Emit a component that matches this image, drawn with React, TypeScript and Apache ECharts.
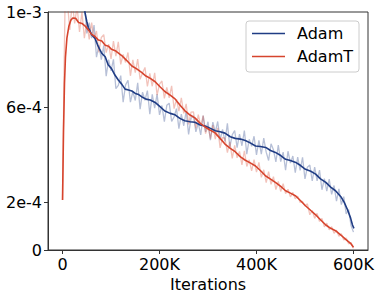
import React, { useEffect, useRef } from "react";
import * as echarts from "echarts";

// x in thousands of iterations, y in units of 1e-4
const adamSmoothX = [40, 46, 50, 53, 60, 67, 74, 81, 88, 94, 101, 108, 115, 122, 129, 136, 143, 150, 157, 163, 172, 181, 191, 201, 211, 222, 232, 242, 252, 263, 273, 284, 294, 305, 315, 325, 335, 346, 356, 367, 377, 388, 398, 408, 419, 429, 439, 450, 460, 470, 481, 491, 501, 512, 522, 532, 543, 553, 563, 574, 581, 588, 594, 598, 601];
const adamSmoothY = [10.8, 10.0, 9.6, 9.36, 9.05, 8.89, 8.53, 8.26, 8.12, 7.78, 7.62, 7.35, 7.14, 6.97, 6.76, 6.72, 6.68, 6.58, 6.53, 6.44, 6.34, 6.30, 6.2, 6.02, 5.84, 5.74, 5.68, 5.53, 5.43, 5.39, 5.37, 5.25, 5.21, 5.11, 5.01, 4.97, 4.91, 4.76, 4.69, 4.66, 4.6, 4.49, 4.37, 4.35, 4.31, 4.18, 4.1, 3.97, 3.81, 3.76, 3.68, 3.55, 3.39, 3.31, 3.19, 2.99, 2.84, 2.64, 2.49, 2.24, 2.0, 1.68, 1.35, 1.05, 0.91];

const adamRawX = [40, 45, 50, 55, 60, 65, 70, 75, 80, 85, 90, 95, 100, 105, 110, 115, 120, 125, 130, 135, 140, 145, 150, 155, 160, 165, 170, 175, 180, 185, 190, 195, 200, 205, 210, 215, 220, 225, 230, 235, 240, 245, 250, 255, 260, 265, 270, 275, 280, 285, 290, 295, 300, 305, 310, 315, 320, 325, 330, 335, 340, 345, 350, 355, 360, 365, 370, 375, 380, 385, 390, 395, 400, 405, 410, 415, 420, 425, 430, 435, 440, 445, 450, 455, 460, 465, 470, 475, 480, 485, 490, 495, 500, 505, 510, 515, 520, 525, 530, 535, 540, 545, 550, 555, 560, 565, 570, 575, 580, 585, 590, 595, 600];
const adamRawY = [11.2, 10.5, 9.1, 9.55, 8.9, 9.45, 8.1, 8.6, 8.0, 8.6, 7.3, 8.0, 7.53, 8.01, 6.78, 6.92, 7.33, 6.21, 6.94, 7.13, 6.21, 6.66, 6.28, 7.02, 5.92, 6.63, 6.29, 6.7, 5.71, 6.54, 5.96, 6.55, 5.68, 6.07, 5.39, 6.08, 6.17, 5.4, 5.59, 5.94, 5.1, 5.71, 5.22, 5.84, 4.86, 5.53, 5.64, 4.96, 5.33, 4.84, 5.65, 4.96, 5.39, 4.61, 5.37, 4.94, 5.4, 4.62, 5.07, 4.56, 5.32, 4.32, 4.84, 5.02, 4.3, 4.87, 4.38, 5.02, 4.03, 4.65, 4.36, 4.78, 4.0, 4.61, 4.03, 4.7, 4.11, 3.76, 4.46, 4.21, 3.7, 4.41, 3.71, 4.11, 3.35, 4.15, 3.65, 3.95, 3.25, 3.9, 3.35, 3.89, 2.99, 3.48, 3.57, 2.9, 3.48, 2.9, 3.36, 2.53, 3.0, 2.47, 2.98, 2.34, 2.71, 2.05, 2.57, 1.91, 2.24, 1.52, 1.7, 1.03, 0.75];

const adamTSmoothX = [0, 2, 4, 6, 9, 13, 17, 21, 27, 33, 40, 46, 53, 60, 67, 74, 81, 88, 95, 101, 110, 122, 132, 143, 153, 163, 172, 181, 191, 201, 211, 222, 232, 242, 252, 263, 273, 284, 294, 304, 314, 325, 335, 346, 356, 367, 377, 388, 398, 408, 419, 429, 439, 450, 460, 470, 481, 491, 501, 512, 522, 532, 543, 553, 563, 574, 584, 594, 600];
const adamTSmoothY = [2.1, 5.0, 7.0, 8.1, 8.9, 9.4, 9.65, 9.75, 9.74, 9.56, 9.52, 9.42, 9.26, 9.06, 8.97, 8.82, 8.78, 8.6, 8.56, 8.43, 8.36, 8.17, 7.97, 7.73, 7.61, 7.46, 7.31, 7.21, 7.07, 6.86, 6.66, 6.51, 6.35, 6.09, 5.86, 5.67, 5.55, 5.32, 5.17, 5.04, 4.93, 4.69, 4.45, 4.27, 4.13, 3.91, 3.77, 3.65, 3.53, 3.34, 3.11, 2.98, 2.84, 2.67, 2.49, 2.39, 2.27, 2.07, 1.86, 1.66, 1.48, 1.27, 1.05, 0.91, 0.81, 0.63, 0.45, 0.28, 0.12];

const adamTRawX = [0, 3, 5, 10, 15, 20, 25, 30, 35, 40, 45, 50, 55, 60, 65, 70, 75, 80, 85, 90, 95, 100, 105, 110, 115, 120, 125, 130, 135, 140, 145, 150, 155, 160, 165, 170, 175, 180, 185, 190, 195, 200, 205, 210, 215, 220, 225, 230, 235, 240, 245, 250, 255, 260, 265, 270, 275, 280, 285, 290, 295, 300, 305, 310, 315, 320, 325, 330, 335, 340, 345, 350, 355, 360, 365, 370, 375, 380, 385, 390, 395, 400, 405, 410, 415, 420, 425, 430, 435, 440, 445, 450, 455, 460, 465, 470, 475, 480, 485, 490, 495, 500, 505, 510, 515, 520, 525, 530, 535, 540, 545, 550, 555, 560, 565, 570, 575, 580, 585, 590, 595, 600];
const adamTRawY = [2.1, 7.4, 10.1, 10.4, 9.25, 10.43, 9.52, 10.23, 9.16, 10.0, 8.9, 9.6, 8.85, 9.55, 8.9, 9.2, 8.3, 8.93, 9.05, 8.29, 8.65, 8.03, 8.78, 8.15, 8.75, 7.8, 8.22, 7.88, 8.3, 7.32, 7.99, 7.45, 8.02, 7.17, 7.44, 7.67, 6.87, 7.42, 6.88, 7.44, 6.51, 6.97, 7.1, 6.37, 6.83, 6.39, 6.9, 5.94, 6.34, 5.83, 6.39, 5.74, 6.14, 5.28, 5.79, 5.8, 5.12, 5.69, 5.21, 5.65, 4.89, 5.21, 4.68, 5.25, 4.66, 5.13, 4.29, 4.73, 4.68, 4.09, 4.54, 3.85, 4.4, 3.87, 4.14, 3.58, 4.17, 3.51, 3.79, 3.32, 3.8, 3.27, 3.68, 3.05, 3.37, 2.83, 3.29, 2.76, 3.08, 2.54, 2.88, 2.46, 2.79, 2.37, 2.55, 2.23, 2.42, 2.15, 2.26, 2.0, 2.04, 1.85, 1.94, 1.48, 1.66, 1.33, 1.54, 1.2, 1.33, 0.97, 1.13, 0.85, 0.98, 0.7, 0.83, 0.58, 0.68, 0.42, 0.5, 0.26, 0.31, 0.07];

const seriesNames = ["Adam", "AdamT"];
const xTickValues = [0, 200, 400, 600];
const yTickValues = [0, 2, 6, 10];
const yTickLabels = ["0", "2e-4", "6e-4", "1e-3"];
const xAxisTitle = "Iterations";

const BLUE = "#1f3c84";
const RED = "#d6442d";
const FONT = "DejaVu Sans";

function pairs(xs: number[], ys: number[]) {
  return xs.map((x, i) => [x, ys[i]]);
}

export default function App() {
  const ref = useRef<HTMLDivElement>(null);
  useEffect(() => {
    if (!ref.current) return;
    const chart = echarts.init(ref.current, undefined, { renderer: "svg" });
    const axisColor = "#333";
    chart.setOption({
      animation: false,
      grid: {
        left: 48,
        right: 12,
        top: 12,
        bottom: 48,
        show: true,
        borderColor: axisColor,
        borderWidth: 1,
        backgroundColor: "transparent",
      },
      xAxis: {
        type: "value",
        min: -30,
        max: 630,
        axisLine: { show: true, onZero: false, lineStyle: { color: axisColor, width: 1 } },
        axisTick: { show: true, customValues: xTickValues, length: 4, lineStyle: { color: axisColor } },
        axisLabel: {
          customValues: xTickValues,
          formatter: (v: number) => (v === 0 ? "0" : v + "K"),
          color: "#000",
          fontSize: 16,
          fontFamily: FONT,
          margin: 6,
        },
        splitLine: { show: false },
        name: xAxisTitle,
        nameLocation: "middle",
        nameGap: 23,
        nameTextStyle: { fontSize: 16, color: "#000", fontFamily: FONT },
      },
      yAxis: {
        type: "value",
        min: 0,
        max: 10,
        axisLine: { show: true, onZero: false, lineStyle: { color: axisColor, width: 1 } },
        axisTick: { show: true, customValues: yTickValues, length: 4, lineStyle: { color: axisColor } },
        axisLabel: {
          customValues: yTickValues,
          formatter: (v: number) => {
            let best = 0;
            yTickValues.forEach((t, i) => {
              if (Math.abs(t - v) < Math.abs(yTickValues[best] - v)) best = i;
            });
            return yTickLabels[best];
          },
          color: "#000",
          fontSize: 16,
          fontFamily: FONT,
          margin: 6,
        },
        splitLine: { show: false },
      },
      series: [
        {
          name: seriesNames[0] + " raw",
          type: "line",
          data: pairs(adamRawX, adamRawY),
          symbol: "none",
          showSymbol: false,
          clip: true,
          silent: true,
          lineStyle: { color: BLUE, width: 1.3, opacity: 0.32 },
          z: 1,
        },
        {
          name: seriesNames[1] + " raw",
          type: "line",
          data: pairs(adamTRawX, adamTRawY),
          symbol: "none",
          showSymbol: false,
          clip: true,
          silent: true,
          lineStyle: { color: RED, width: 1.3, opacity: 0.32 },
          z: 1,
        },
        {
          name: seriesNames[0],
          type: "line",
          data: pairs(adamSmoothX, adamSmoothY),
          symbol: "none",
          showSymbol: false,
          clip: true,
          lineStyle: { color: BLUE, width: 1.6 },
          z: 3,
        },
        {
          name: seriesNames[1],
          type: "line",
          data: pairs(adamTSmoothX, adamTSmoothY),
          symbol: "none",
          showSymbol: false,
          clip: true,
          lineStyle: { color: RED, width: 1.6 },
          z: 3,
        },
      ],
      graphic: [
        {
          type: "rect",
          shape: { x: 246, y: 21, width: 113, height: 51, r: 3 },
          style: { fill: "rgba(255,255,255,0.8)", stroke: "#cccccc", lineWidth: 1 },
          z: 10,
        },
        {
          type: "line",
          shape: { x1: 252, y1: 33.5, x2: 285, y2: 33.5 },
          style: { stroke: BLUE, lineWidth: 1.6 },
          z: 11,
        },
        {
          type: "text",
          x: 297,
          y: 33.5,
          style: { text: seriesNames[0], fill: "#000", font: `16px "${FONT}"`, verticalAlign: "middle", align: "left" },
          z: 11,
        },
        {
          type: "line",
          shape: { x1: 252, y1: 56.5, x2: 285, y2: 56.5 },
          style: { stroke: RED, lineWidth: 1.6 },
          z: 11,
        },
        {
          type: "text",
          x: 297,
          y: 56.5,
          style: { text: seriesNames[1], fill: "#000", font: `16px "${FONT}"`, verticalAlign: "middle", align: "left" },
          z: 11,
        },
      ],
    });
    return () => chart.dispose();
  }, []);
  return (
    <div
      ref={ref}
      style={{ position: "fixed", left: 0, top: 0, width: 380, height: 298, background: "#fff" }}
    />
  );
}
